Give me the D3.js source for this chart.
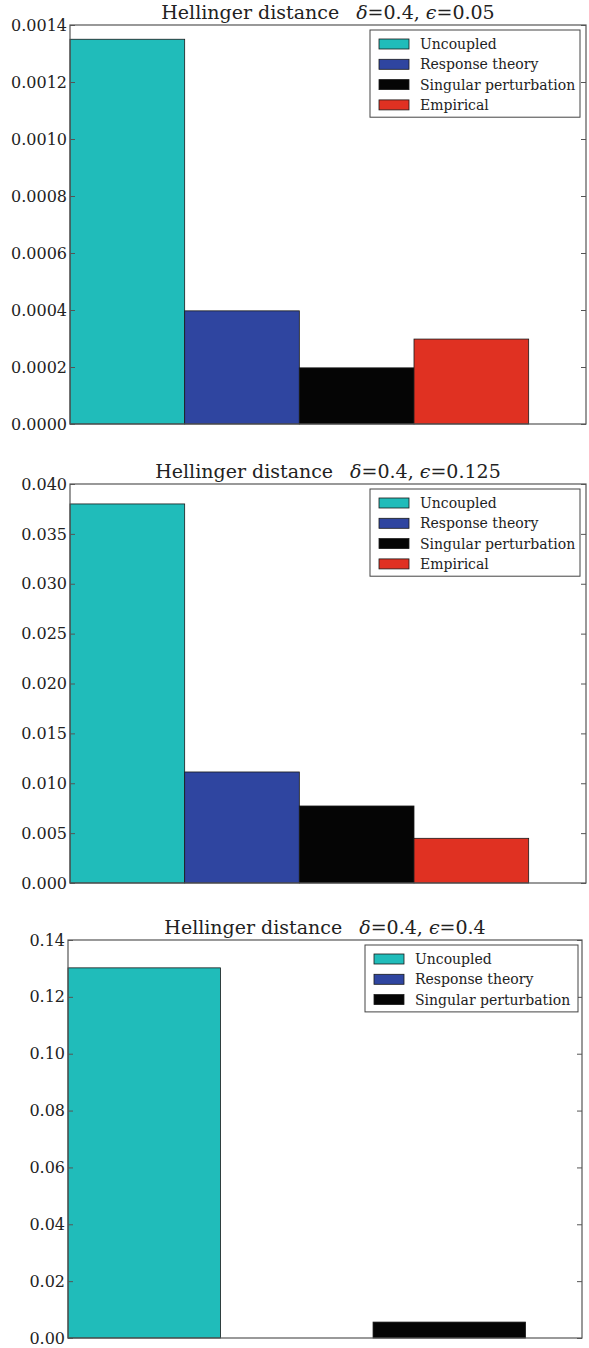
<!DOCTYPE html>
<html>
<head>
<meta charset="utf-8">
<script src="https://cdn.jsdelivr.net/npm/d3@7"></script>
<style>
  html, body { margin: 0; padding: 0; background: #fff; }
  svg { display: block; }
  text { font-family: "DejaVu Serif", serif; fill: #222; }
</style>
</head>
<body>
<svg id="chart" width="589" height="1348"></svg>
<script>
// ---------- data ----------
const categories = ["Uncoupled", "Response theory", "Singular perturbation", "Empirical"];
const barColors = ["#20bcba", "#2f45a0", "#050505", "#e03122"];

const epsilonLabels = ["0.05", "0.125", "0.4"];
const deltaLabel = "0.4";

const valuesEps005 = [0.00135, 0.000397, 0.000197, 0.000298];
const valuesEps0125 = [0.0380, 0.01113, 0.00772, 0.00448];
const valuesEps04 = [0.1302, 0.0, 0.0056];

const ticksEps005 = [0, 0.0002, 0.0004, 0.0006, 0.0008, 0.0010, 0.0012, 0.0014];
const ticksEps0125 = [0, 0.005, 0.010, 0.015, 0.020, 0.025, 0.030, 0.035, 0.040];
const ticksEps04 = [0, 0.02, 0.04, 0.06, 0.08, 0.10, 0.12, 0.14];

const tickFormats = [".4f", ".3f", ".2f"];

// ---------- layout ----------
const panels = [
  { values: valuesEps005, ticks: ticksEps005, fmt: tickFormats[0], eps: epsilonLabels[0],
    left: 70, right: 586, top: 25, bottom: 424, xMax: 4.5,
    legend: { x: 370, y: 30, w: 210, rowH: 20.3 } },
  { values: valuesEps0125, ticks: ticksEps0125, fmt: tickFormats[1], eps: epsilonLabels[1],
    left: 70, right: 586, top: 484, bottom: 883, xMax: 4.5,
    legend: { x: 370, y: 489, w: 210, rowH: 20.3 } },
  { values: valuesEps04, ticks: ticksEps04, fmt: tickFormats[2], eps: epsilonLabels[2],
    left: 68, right: 582, top: 940, bottom: 1338, xMax: 3.37,
    legend: { x: 365, y: 945, w: 213, rowH: 20.3 } }
];

const svg = d3.select("#chart");

panels.forEach(p => {
  const g = svg.append("g");
  const yMax = p.ticks[p.ticks.length - 1];
  const x = d3.scaleLinear().domain([0, p.xMax]).range([p.left, p.right]);
  const y = d3.scaleLinear().domain([0, yMax]).range([p.bottom, p.top]);

  // bars
  g.selectAll("rect.bar")
    .data(p.values)
    .join("rect")
    .attr("class", "bar")
    .attr("x", (d, i) => x(i))
    .attr("width", (d, i) => x(i + 1) - x(i))
    .attr("y", d => y(d))
    .attr("height", d => y(0) - y(d))
    .attr("fill", (d, i) => barColors[i])
    .attr("stroke", "#1a1a1a")
    .attr("stroke-width", 0.8);

  // left axis (ticks inside)
  const yAxisL = d3.axisLeft(y).tickValues(p.ticks).tickFormat(d3.format(p.fmt))
    .tickSizeInner(-5).tickSizeOuter(0).tickPadding(3);
  const gl = g.append("g").attr("transform", `translate(${p.left},0)`).call(yAxisL);
  gl.select(".domain").remove();
  gl.selectAll(".tick line").attr("stroke", "#555");
  gl.selectAll(".tick text").style("font-family", "DejaVu Serif, serif")
    .style("font-size", "16px").attr("fill", "#222");

  // right axis ticks
  const yAxisR = d3.axisRight(y).tickValues(p.ticks).tickFormat("")
    .tickSizeInner(-5).tickSizeOuter(0);
  const gr = g.append("g").attr("transform", `translate(${p.right},0)`).call(yAxisR);
  gr.select(".domain").remove();
  gr.selectAll(".tick line").attr("stroke", "#555");

  // frame
  g.append("rect")
    .attr("x", p.left).attr("y", p.top)
    .attr("width", p.right - p.left).attr("height", p.bottom - p.top)
    .attr("fill", "none").attr("stroke", "#555").attr("stroke-width", 1.2);

  // title
  const t = g.append("text")
    .attr("x", (p.left + p.right) / 2)
    .attr("y", p.top - 6)
    .attr("text-anchor", "middle")
    .style("font-size", "19px");
  t.append("tspan").text("Hellinger distance");
  t.append("tspan").attr("dx", 17).style("font-style", "italic").text("δ");
  t.append("tspan").text("=" + deltaLabel + ", ");
  t.append("tspan").style("font-style", "italic").text("ϵ");
  t.append("tspan").text("=" + p.eps);

  // legend
  const n = p.values.length;
  const L = p.legend;
  const lg = g.append("g");
  lg.append("rect")
    .attr("x", L.x).attr("y", L.y)
    .attr("width", L.w).attr("height", 6 + n * L.rowH)
    .attr("fill", "#fff").attr("stroke", "#444").attr("stroke-width", 1);
  const items = lg.selectAll("g.item")
    .data(categories.slice(0, n))
    .join("g")
    .attr("class", "item")
    .attr("transform", (d, i) => `translate(${L.x + 9},${L.y + 7 + i * L.rowH + 7})`);
  items.append("rect")
    .attr("x", 0).attr("y", -5)
    .attr("width", 30).attr("height", 10)
    .attr("fill", (d, i) => barColors[i])
    .attr("stroke", "#1a1a1a").attr("stroke-width", 0.8);
  items.append("text")
    .attr("x", 41).attr("y", 5)
    .style("font-size", "14px")
    .text(d => d);
});
</script>
</body>
</html>
